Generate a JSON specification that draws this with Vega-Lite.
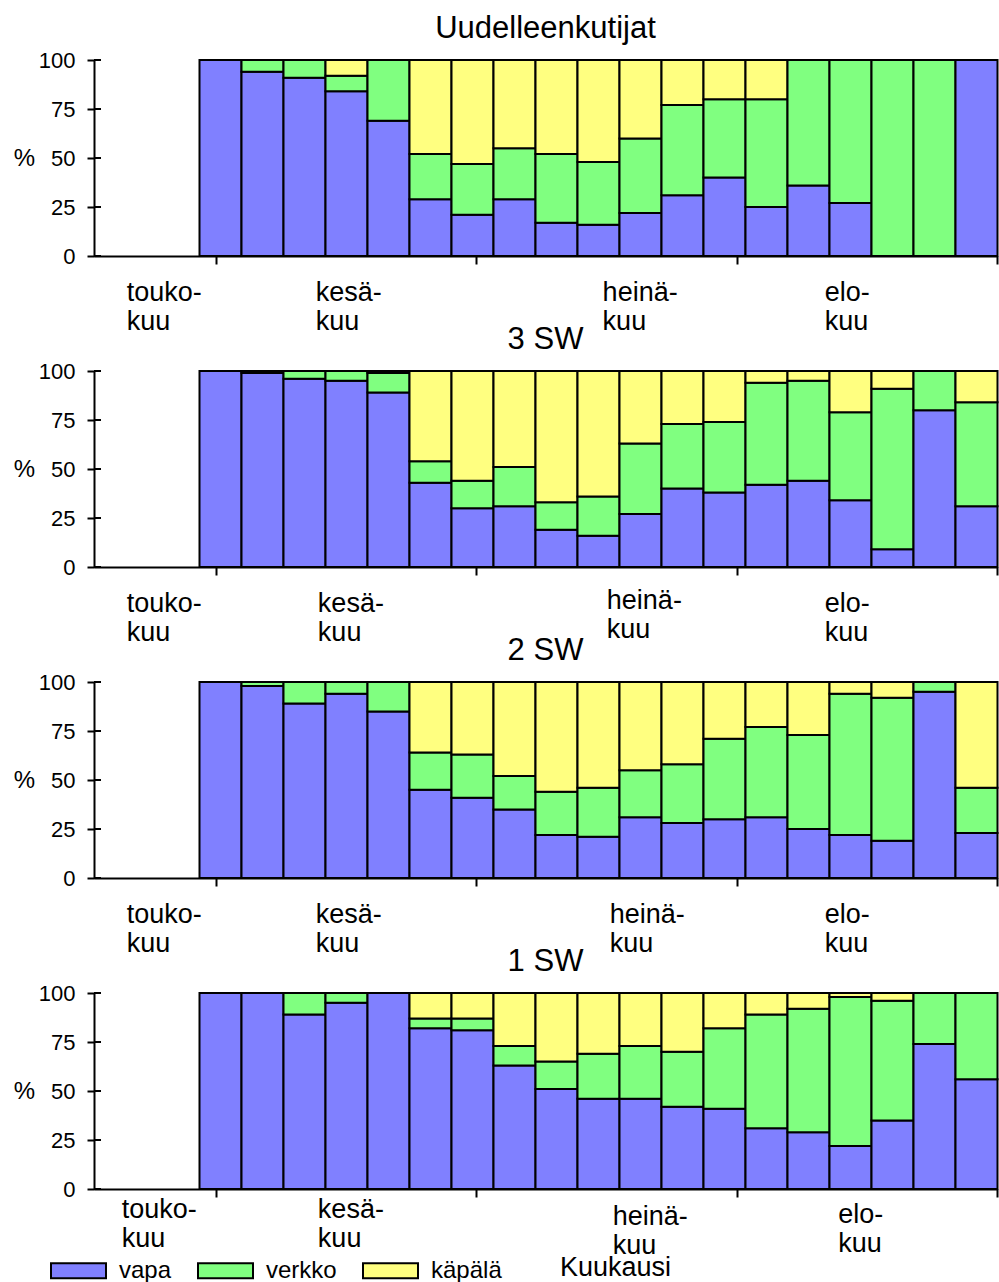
{
  "$schema": "https://vega.github.io/schema/vega-lite/v6.json",
  "autosize": {"type": "pad"},
  "padding": {"left": 13, "top": 13, "right": 0, "bottom": 0},
  "background": "white",
  "bounds": "flush",
  "spacing": 115,
  "datasets": {
    "osuudet": [
      {"ryhma": "Uudelleenkutijat", "jakso": 1, "vapa": 100, "verkko": 0, "käpälä": 0},
      {"ryhma": "Uudelleenkutijat", "jakso": 2, "vapa": 94, "verkko": 6, "käpälä": 0},
      {"ryhma": "Uudelleenkutijat", "jakso": 3, "vapa": 91, "verkko": 9, "käpälä": 0},
      {"ryhma": "Uudelleenkutijat", "jakso": 4, "vapa": 84, "verkko": 8, "käpälä": 8},
      {"ryhma": "Uudelleenkutijat", "jakso": 5, "vapa": 69, "verkko": 31, "käpälä": 0},
      {"ryhma": "Uudelleenkutijat", "jakso": 6, "vapa": 29, "verkko": 23, "käpälä": 48},
      {"ryhma": "Uudelleenkutijat", "jakso": 7, "vapa": 21, "verkko": 26, "käpälä": 53},
      {"ryhma": "Uudelleenkutijat", "jakso": 8, "vapa": 29, "verkko": 26, "käpälä": 45},
      {"ryhma": "Uudelleenkutijat", "jakso": 9, "vapa": 17, "verkko": 35, "käpälä": 48},
      {"ryhma": "Uudelleenkutijat", "jakso": 10, "vapa": 16, "verkko": 32, "käpälä": 52},
      {"ryhma": "Uudelleenkutijat", "jakso": 11, "vapa": 22, "verkko": 38, "käpälä": 40},
      {"ryhma": "Uudelleenkutijat", "jakso": 12, "vapa": 31, "verkko": 46, "käpälä": 23},
      {"ryhma": "Uudelleenkutijat", "jakso": 13, "vapa": 40, "verkko": 40, "käpälä": 20},
      {"ryhma": "Uudelleenkutijat", "jakso": 14, "vapa": 25, "verkko": 55, "käpälä": 20},
      {"ryhma": "Uudelleenkutijat", "jakso": 15, "vapa": 36, "verkko": 64, "käpälä": 0},
      {"ryhma": "Uudelleenkutijat", "jakso": 16, "vapa": 27, "verkko": 73, "käpälä": 0},
      {"ryhma": "Uudelleenkutijat", "jakso": 17, "vapa": 0, "verkko": 100, "käpälä": 0},
      {"ryhma": "Uudelleenkutijat", "jakso": 18, "vapa": 0, "verkko": 100, "käpälä": 0},
      {"ryhma": "Uudelleenkutijat", "jakso": 19, "vapa": 100, "verkko": 0, "käpälä": 0},

      {"ryhma": "3 SW", "jakso": 1, "vapa": 100, "verkko": 0, "käpälä": 0},
      {"ryhma": "3 SW", "jakso": 2, "vapa": 99, "verkko": 1, "käpälä": 0},
      {"ryhma": "3 SW", "jakso": 3, "vapa": 96, "verkko": 4, "käpälä": 0},
      {"ryhma": "3 SW", "jakso": 4, "vapa": 95, "verkko": 5, "käpälä": 0},
      {"ryhma": "3 SW", "jakso": 5, "vapa": 89, "verkko": 10, "käpälä": 1},
      {"ryhma": "3 SW", "jakso": 6, "vapa": 43, "verkko": 11, "käpälä": 46},
      {"ryhma": "3 SW", "jakso": 7, "vapa": 30, "verkko": 14, "käpälä": 56},
      {"ryhma": "3 SW", "jakso": 8, "vapa": 31, "verkko": 20, "käpälä": 49},
      {"ryhma": "3 SW", "jakso": 9, "vapa": 19, "verkko": 14, "käpälä": 67},
      {"ryhma": "3 SW", "jakso": 10, "vapa": 16, "verkko": 20, "käpälä": 64},
      {"ryhma": "3 SW", "jakso": 11, "vapa": 27, "verkko": 36, "käpälä": 37},
      {"ryhma": "3 SW", "jakso": 12, "vapa": 40, "verkko": 33, "käpälä": 27},
      {"ryhma": "3 SW", "jakso": 13, "vapa": 38, "verkko": 36, "käpälä": 26},
      {"ryhma": "3 SW", "jakso": 14, "vapa": 42, "verkko": 52, "käpälä": 6},
      {"ryhma": "3 SW", "jakso": 15, "vapa": 44, "verkko": 51, "käpälä": 5},
      {"ryhma": "3 SW", "jakso": 16, "vapa": 34, "verkko": 45, "käpälä": 21},
      {"ryhma": "3 SW", "jakso": 17, "vapa": 9, "verkko": 82, "käpälä": 9},
      {"ryhma": "3 SW", "jakso": 18, "vapa": 80, "verkko": 20, "käpälä": 0},
      {"ryhma": "3 SW", "jakso": 19, "vapa": 31, "verkko": 53, "käpälä": 16},

      {"ryhma": "2 SW", "jakso": 1, "vapa": 100, "verkko": 0, "käpälä": 0},
      {"ryhma": "2 SW", "jakso": 2, "vapa": 98, "verkko": 2, "käpälä": 0},
      {"ryhma": "2 SW", "jakso": 3, "vapa": 89, "verkko": 11, "käpälä": 0},
      {"ryhma": "2 SW", "jakso": 4, "vapa": 94, "verkko": 6, "käpälä": 0},
      {"ryhma": "2 SW", "jakso": 5, "vapa": 85, "verkko": 15, "käpälä": 0},
      {"ryhma": "2 SW", "jakso": 6, "vapa": 45, "verkko": 19, "käpälä": 36},
      {"ryhma": "2 SW", "jakso": 7, "vapa": 41, "verkko": 22, "käpälä": 37},
      {"ryhma": "2 SW", "jakso": 8, "vapa": 35, "verkko": 17, "käpälä": 48},
      {"ryhma": "2 SW", "jakso": 9, "vapa": 22, "verkko": 22, "käpälä": 56},
      {"ryhma": "2 SW", "jakso": 10, "vapa": 21, "verkko": 25, "käpälä": 54},
      {"ryhma": "2 SW", "jakso": 11, "vapa": 31, "verkko": 24, "käpälä": 45},
      {"ryhma": "2 SW", "jakso": 12, "vapa": 28, "verkko": 30, "käpälä": 42},
      {"ryhma": "2 SW", "jakso": 13, "vapa": 30, "verkko": 41, "käpälä": 29},
      {"ryhma": "2 SW", "jakso": 14, "vapa": 31, "verkko": 46, "käpälä": 23},
      {"ryhma": "2 SW", "jakso": 15, "vapa": 25, "verkko": 48, "käpälä": 27},
      {"ryhma": "2 SW", "jakso": 16, "vapa": 22, "verkko": 72, "käpälä": 6},
      {"ryhma": "2 SW", "jakso": 17, "vapa": 19, "verkko": 73, "käpälä": 8},
      {"ryhma": "2 SW", "jakso": 18, "vapa": 95, "verkko": 5, "käpälä": 0},
      {"ryhma": "2 SW", "jakso": 19, "vapa": 23, "verkko": 23, "käpälä": 54},

      {"ryhma": "1 SW", "jakso": 1, "vapa": 100, "verkko": 0, "käpälä": 0},
      {"ryhma": "1 SW", "jakso": 2, "vapa": 100, "verkko": 0, "käpälä": 0},
      {"ryhma": "1 SW", "jakso": 3, "vapa": 89, "verkko": 11, "käpälä": 0},
      {"ryhma": "1 SW", "jakso": 4, "vapa": 95, "verkko": 5, "käpälä": 0},
      {"ryhma": "1 SW", "jakso": 5, "vapa": 100, "verkko": 0, "käpälä": 0},
      {"ryhma": "1 SW", "jakso": 6, "vapa": 82, "verkko": 5, "käpälä": 13},
      {"ryhma": "1 SW", "jakso": 7, "vapa": 81, "verkko": 6, "käpälä": 13},
      {"ryhma": "1 SW", "jakso": 8, "vapa": 63, "verkko": 10, "käpälä": 27},
      {"ryhma": "1 SW", "jakso": 9, "vapa": 51, "verkko": 14, "käpälä": 35},
      {"ryhma": "1 SW", "jakso": 10, "vapa": 46, "verkko": 23, "käpälä": 31},
      {"ryhma": "1 SW", "jakso": 11, "vapa": 46, "verkko": 27, "käpälä": 27},
      {"ryhma": "1 SW", "jakso": 12, "vapa": 42, "verkko": 28, "käpälä": 30},
      {"ryhma": "1 SW", "jakso": 13, "vapa": 41, "verkko": 41, "käpälä": 18},
      {"ryhma": "1 SW", "jakso": 14, "vapa": 31, "verkko": 58, "käpälä": 11},
      {"ryhma": "1 SW", "jakso": 15, "vapa": 29, "verkko": 63, "käpälä": 8},
      {"ryhma": "1 SW", "jakso": 16, "vapa": 22, "verkko": 76, "käpälä": 2},
      {"ryhma": "1 SW", "jakso": 17, "vapa": 35, "verkko": 61, "käpälä": 4},
      {"ryhma": "1 SW", "jakso": 18, "vapa": 74, "verkko": 26, "käpälä": 0},
      {"ryhma": "1 SW", "jakso": 19, "vapa": 56, "verkko": 44, "käpälä": 0}
    ],
    "kuukaudet": [
      {"ryhma": "Uudelleenkutijat", "nimi": "touko-\nkuu", "x": -1.72, "y": -23},
      {"ryhma": "Uudelleenkutijat", "nimi": "kesä-\nkuu", "x": 2.78, "y": -23},
      {"ryhma": "Uudelleenkutijat", "nimi": "heinä-\nkuu", "x": 9.61, "y": -23},
      {"ryhma": "Uudelleenkutijat", "nimi": "elo-\nkuu", "x": 14.9, "y": -23},
      {"ryhma": "3 SW", "nimi": "touko-\nkuu", "x": -1.72, "y": -23},
      {"ryhma": "3 SW", "nimi": "kesä-\nkuu", "x": 2.83, "y": -23},
      {"ryhma": "3 SW", "nimi": "heinä-\nkuu", "x": 9.71, "y": -21.5},
      {"ryhma": "3 SW", "nimi": "elo-\nkuu", "x": 14.9, "y": -23},
      {"ryhma": "2 SW", "nimi": "touko-\nkuu", "x": -1.72, "y": -23},
      {"ryhma": "2 SW", "nimi": "kesä-\nkuu", "x": 2.78, "y": -23},
      {"ryhma": "2 SW", "nimi": "heinä-\nkuu", "x": 9.78, "y": -23},
      {"ryhma": "2 SW", "nimi": "elo-\nkuu", "x": 14.9, "y": -23},
      {"ryhma": "1 SW", "nimi": "touko-\nkuu", "x": -1.84, "y": -15},
      {"ryhma": "1 SW", "nimi": "kesä-\nkuu", "x": 2.83, "y": -15},
      {"ryhma": "1 SW", "nimi": "heinä-\nkuu", "x": 9.85, "y": -18.5},
      {"ryhma": "1 SW", "nimi": "elo-\nkuu", "x": 15.22, "y": -17.5}
    ],
    "jakoviivat": [{"v": 0}, {"v": 25}, {"v": 50}, {"v": 75}, {"v": 100}]
  },
  "vconcat": [
    {
      "title": "Uudelleenkutijat",
      "width": 903,
      "height": 196,
      "layer": [
        {
          "data": {"name": "osuudet"},
          "transform": [
            {"filter": "datum.ryhma === 'Uudelleenkutijat'"},
            {"fold": ["vapa", "verkko", "käpälä"], "as": ["pyydys", "osuus"]},
            {"calculate": "datum.jakso - 1", "as": "alku"},
            {"calculate": "indexof(['vapa', 'verkko', 'käpälä'], datum.pyydys)", "as": "jarjestys"}
          ],
          "mark": {"type": "bar", "stroke": "black", "strokeWidth": 2, "binSpacing": 0},
          "encoding": {
            "x": {"field": "alku", "type": "quantitative", "bin": {"binned": true},
                  "scale": {"domain": [-2.5, 19], "nice": false, "zero": false},
                  "axis": {"values": [0.4, 6.6, 12.8, 19], "labels": false, "tickSize": 8, "title": null}},
            "x2": {"field": "jakso"},
            "y": {"field": "osuus", "type": "quantitative", "stack": "zero",
                  "scale": {"domain": [0, 100], "nice": false},
                  "axis": {"values": [0, 25, 50, 75, 100], "title": "%"}},
            "color": {"field": "pyydys", "type": "nominal",
                      "scale": {"domain": ["vapa", "verkko", "käpälä"], "range": ["#8080ff", "#80ff80", "#ffff80"]}},
            "order": {"field": "jarjestys", "type": "quantitative"}
          }
        },
        {
          "data": {"name": "jakoviivat"},
          "mark": {"type": "rule", "color": "black", "strokeWidth": 2},
          "encoding": {
            "y": {"field": "v", "type": "quantitative",
                  "axis": {"values": [0, 25, 50, 75, 100], "title": "%"}},
            "x": {"datum": -2.5, "type": "quantitative",
                  "axis": {"values": [0.4, 6.6, 12.8, 19], "labels": false, "tickSize": 8, "title": null}},
            "x2": {"datum": -2.333}
          }
        },
        {
          "data": {"name": "kuukaudet"},
          "transform": [{"filter": "datum.ryhma === 'Uudelleenkutijat'"}],
          "mark": {"type": "text", "align": "left", "baseline": "alphabetic", "fontSize": 27, "lineHeight": 29, "lineBreak": "\n", "color": "black"},
          "encoding": {
            "x": {"field": "x", "type": "quantitative",
                  "axis": {"values": [0.4, 6.6, 12.8, 19], "labels": false, "tickSize": 8, "title": null}},
            "y": {"field": "y", "type": "quantitative",
                  "axis": {"values": [0, 25, 50, 75, 100], "title": "%"}},
            "text": {"field": "nimi"}
          }
        }
      ]
    },
    {
      "title": "3 SW",
      "width": 903,
      "height": 196,
      "layer": [
        {
          "data": {"name": "osuudet"},
          "transform": [
            {"filter": "datum.ryhma === '3 SW'"},
            {"fold": ["vapa", "verkko", "käpälä"], "as": ["pyydys", "osuus"]},
            {"calculate": "datum.jakso - 1", "as": "alku"},
            {"calculate": "indexof(['vapa', 'verkko', 'käpälä'], datum.pyydys)", "as": "jarjestys"}
          ],
          "mark": {"type": "bar", "stroke": "black", "strokeWidth": 2, "binSpacing": 0},
          "encoding": {
            "x": {"field": "alku", "type": "quantitative", "bin": {"binned": true},
                  "scale": {"domain": [-2.5, 19], "nice": false, "zero": false},
                  "axis": {"values": [0.4, 6.6, 12.8, 19], "labels": false, "tickSize": 8, "title": null}},
            "x2": {"field": "jakso"},
            "y": {"field": "osuus", "type": "quantitative", "stack": "zero",
                  "scale": {"domain": [0, 100], "nice": false},
                  "axis": {"values": [0, 25, 50, 75, 100], "title": "%"}},
            "color": {"field": "pyydys", "type": "nominal",
                      "scale": {"domain": ["vapa", "verkko", "käpälä"], "range": ["#8080ff", "#80ff80", "#ffff80"]}},
            "order": {"field": "jarjestys", "type": "quantitative"}
          }
        },
        {
          "data": {"name": "jakoviivat"},
          "mark": {"type": "rule", "color": "black", "strokeWidth": 2},
          "encoding": {
            "y": {"field": "v", "type": "quantitative",
                  "axis": {"values": [0, 25, 50, 75, 100], "title": "%"}},
            "x": {"datum": -2.5, "type": "quantitative",
                  "axis": {"values": [0.4, 6.6, 12.8, 19], "labels": false, "tickSize": 8, "title": null}},
            "x2": {"datum": -2.333}
          }
        },
        {
          "data": {"name": "kuukaudet"},
          "transform": [{"filter": "datum.ryhma === '3 SW'"}],
          "mark": {"type": "text", "align": "left", "baseline": "alphabetic", "fontSize": 27, "lineHeight": 29, "lineBreak": "\n", "color": "black"},
          "encoding": {
            "x": {"field": "x", "type": "quantitative",
                  "axis": {"values": [0.4, 6.6, 12.8, 19], "labels": false, "tickSize": 8, "title": null}},
            "y": {"field": "y", "type": "quantitative",
                  "axis": {"values": [0, 25, 50, 75, 100], "title": "%"}},
            "text": {"field": "nimi"}
          }
        }
      ]
    },
    {
      "title": "2 SW",
      "width": 903,
      "height": 196,
      "layer": [
        {
          "data": {"name": "osuudet"},
          "transform": [
            {"filter": "datum.ryhma === '2 SW'"},
            {"fold": ["vapa", "verkko", "käpälä"], "as": ["pyydys", "osuus"]},
            {"calculate": "datum.jakso - 1", "as": "alku"},
            {"calculate": "indexof(['vapa', 'verkko', 'käpälä'], datum.pyydys)", "as": "jarjestys"}
          ],
          "mark": {"type": "bar", "stroke": "black", "strokeWidth": 2, "binSpacing": 0},
          "encoding": {
            "x": {"field": "alku", "type": "quantitative", "bin": {"binned": true},
                  "scale": {"domain": [-2.5, 19], "nice": false, "zero": false},
                  "axis": {"values": [0.4, 6.6, 12.8, 19], "labels": false, "tickSize": 8, "title": null}},
            "x2": {"field": "jakso"},
            "y": {"field": "osuus", "type": "quantitative", "stack": "zero",
                  "scale": {"domain": [0, 100], "nice": false},
                  "axis": {"values": [0, 25, 50, 75, 100], "title": "%"}},
            "color": {"field": "pyydys", "type": "nominal",
                      "scale": {"domain": ["vapa", "verkko", "käpälä"], "range": ["#8080ff", "#80ff80", "#ffff80"]}},
            "order": {"field": "jarjestys", "type": "quantitative"}
          }
        },
        {
          "data": {"name": "jakoviivat"},
          "mark": {"type": "rule", "color": "black", "strokeWidth": 2},
          "encoding": {
            "y": {"field": "v", "type": "quantitative",
                  "axis": {"values": [0, 25, 50, 75, 100], "title": "%"}},
            "x": {"datum": -2.5, "type": "quantitative",
                  "axis": {"values": [0.4, 6.6, 12.8, 19], "labels": false, "tickSize": 8, "title": null}},
            "x2": {"datum": -2.333}
          }
        },
        {
          "data": {"name": "kuukaudet"},
          "transform": [{"filter": "datum.ryhma === '2 SW'"}],
          "mark": {"type": "text", "align": "left", "baseline": "alphabetic", "fontSize": 27, "lineHeight": 29, "lineBreak": "\n", "color": "black"},
          "encoding": {
            "x": {"field": "x", "type": "quantitative",
                  "axis": {"values": [0.4, 6.6, 12.8, 19], "labels": false, "tickSize": 8, "title": null}},
            "y": {"field": "y", "type": "quantitative",
                  "axis": {"values": [0, 25, 50, 75, 100], "title": "%"}},
            "text": {"field": "nimi"}
          }
        }
      ]
    },
    {
      "title": "1 SW",
      "width": 903,
      "height": 196,
      "layer": [
        {
          "data": {"name": "osuudet"},
          "transform": [
            {"filter": "datum.ryhma === '1 SW'"},
            {"fold": ["vapa", "verkko", "käpälä"], "as": ["pyydys", "osuus"]},
            {"calculate": "datum.jakso - 1", "as": "alku"},
            {"calculate": "indexof(['vapa', 'verkko', 'käpälä'], datum.pyydys)", "as": "jarjestys"}
          ],
          "mark": {"type": "bar", "stroke": "black", "strokeWidth": 2, "binSpacing": 0},
          "encoding": {
            "x": {"field": "alku", "type": "quantitative", "bin": {"binned": true},
                  "scale": {"domain": [-2.5, 19], "nice": false, "zero": false},
                  "axis": {"values": [0.4, 6.6, 12.8, 19], "labels": false, "tickSize": 8,
                           "title": "Kuukausi", "titleX": 521, "titleY": 86, "titleAlign": "center",
                           "titleBaseline": "alphabetic", "titleFontSize": 27}},
            "x2": {"field": "jakso"},
            "y": {"field": "osuus", "type": "quantitative", "stack": "zero",
                  "scale": {"domain": [0, 100], "nice": false},
                  "axis": {"values": [0, 25, 50, 75, 100], "title": "%"}},
            "color": {"field": "pyydys", "type": "nominal",
                      "scale": {"domain": ["vapa", "verkko", "käpälä"], "range": ["#8080ff", "#80ff80", "#ffff80"]}},
            "order": {"field": "jarjestys", "type": "quantitative"}
          }
        },
        {
          "data": {"name": "jakoviivat"},
          "mark": {"type": "rule", "color": "black", "strokeWidth": 2},
          "encoding": {
            "y": {"field": "v", "type": "quantitative",
                  "axis": {"values": [0, 25, 50, 75, 100], "title": "%"}},
            "x": {"datum": -2.5, "type": "quantitative",
                  "axis": {"values": [0.4, 6.6, 12.8, 19], "labels": false, "tickSize": 8,
                           "title": "Kuukausi", "titleX": 521, "titleY": 86, "titleAlign": "center",
                           "titleBaseline": "alphabetic", "titleFontSize": 27}},
            "x2": {"datum": -2.333}
          }
        },
        {
          "data": {"name": "kuukaudet"},
          "transform": [{"filter": "datum.ryhma === '1 SW'"}],
          "mark": {"type": "text", "align": "left", "baseline": "alphabetic", "fontSize": 27, "lineHeight": 29, "lineBreak": "\n", "color": "black"},
          "encoding": {
            "x": {"field": "x", "type": "quantitative",
                  "axis": {"values": [0.4, 6.6, 12.8, 19], "labels": false, "tickSize": 8,
                           "title": "Kuukausi", "titleX": 521, "titleY": 86, "titleAlign": "center",
                           "titleBaseline": "alphabetic", "titleFontSize": 27}},
            "y": {"field": "y", "type": "quantitative",
                  "axis": {"values": [0, 25, 50, 75, 100], "title": "%"}},
            "text": {"field": "nimi"}
          }
        }
      ]
    }
  ],
  "config": {
    "font": "Liberation Sans",
    "view": {"stroke": null},
    "axis": {
      "grid": false,
      "domainColor": "black",
      "domainWidth": 2,
      "tickColor": "black",
      "tickWidth": 2,
      "labelColor": "black",
      "labelFontSize": 22,
      "titleColor": "black",
      "titleFontWeight": "normal"
    },
    "axisY": {
      "tickSize": 7,
      "labelPadding": 12,
      "titleAngle": 0,
      "titleX": -70,
      "titleY": 98,
      "titleAlign": "center",
      "titleBaseline": "middle",
      "titleFontSize": 24
    },
    "title": {
      "fontSize": 31,
      "fontWeight": "normal",
      "color": "black",
      "baseline": "alphabetic",
      "offset": 4,
      "anchor": "middle",
      "frame": "group"
    },
    "legend": {
      "orient": "none",
      "legendX": -44,
      "legendY": 1182,
      "direction": "horizontal",
      "title": null,
      "symbolType": "M-1,-0.27H1V0.27H-1Z",
      "symbolSize": 3025,
      "symbolStrokeColor": "black",
      "symbolStrokeWidth": 2,
      "symbolOpacity": 1,
      "labelFontSize": 24,
      "labelColor": "black",
      "labelOffset": 12,
      "columnPadding": 22
    }
  }
}
